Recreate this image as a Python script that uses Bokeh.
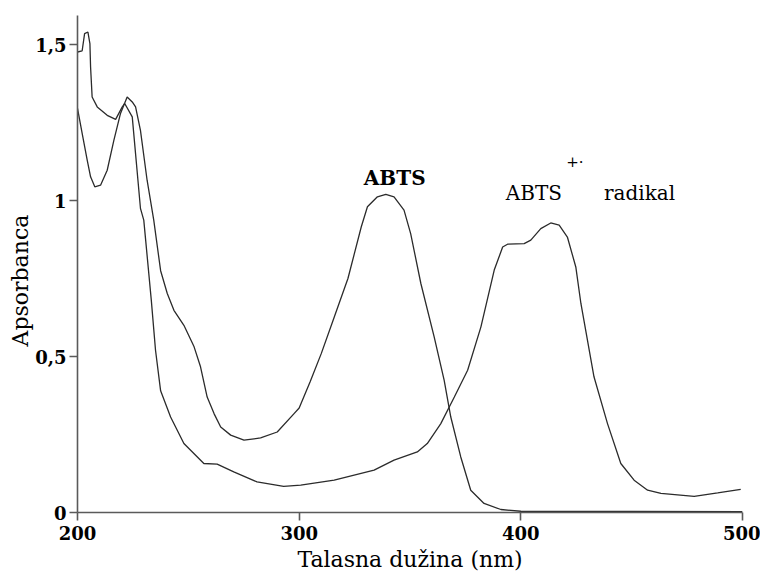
from bokeh.plotting import figure
from bokeh.models import FixedTicker, Title
from bokeh.core.properties import value
from bokeh.embed import file_html
from bokeh.resources import INLINE

# ---- data ----
radical_nm = [200, 202.1, 203.2, 204.7, 205.6, 205.9, 206.6, 208.9, 213.4, 217.2,
              220.2, 221.3, 224.7, 228.4, 229.9, 233.3, 235.2, 237.5, 242, 248,
              257, 263, 270.5, 281, 293, 300.7, 315.8, 333.8, 342.8, 353.3,
              357.8, 363.9, 370, 376, 382, 388, 391.8, 394, 401.5, 404.5,
              409, 413.5, 417.3, 421, 424.8, 427.1, 433, 439.1, 445.1, 451.1,
              457.2, 463.2, 478.2, 488.8, 499.2]
radical_abs = [1.476, 1.48, 1.535, 1.54, 1.503, 1.428, 1.332, 1.30, 1.273, 1.26,
               1.30, 1.311, 1.268, 0.975, 0.937, 0.68, 0.52, 0.39, 0.306, 0.221,
               0.157, 0.155, 0.13, 0.098, 0.084, 0.0875, 0.1035, 0.1356, 0.168, 0.194,
               0.221, 0.285, 0.37, 0.456, 0.595, 0.777, 0.851, 0.86, 0.862, 0.873,
               0.91, 0.928, 0.921, 0.883, 0.787, 0.67, 0.435, 0.285, 0.157, 0.1035,
               0.0715, 0.061, 0.052, 0.063, 0.074]

abts_nm = [200, 202.1, 204.4, 205.9, 207.8, 210.4, 213.4, 216.4, 219.4, 222.4,
           224.7, 226.2, 228.4, 231.4, 234.4, 237.5, 240.5, 243.5, 248, 252.6,
           255.5, 258.5, 261.6, 264.6, 269.1, 275.1, 282.6, 290.1, 297.7, 300,
           305, 310, 316, 322, 328, 330.8, 335.3, 339.1, 342.8, 347.3,
           350.3, 354.9, 360.9, 365.4, 368.4, 372.9, 377.4, 383.4, 391, 400, 500]
abts_abs = [1.295, 1.215, 1.129, 1.076, 1.044, 1.049, 1.097, 1.193, 1.279, 1.332,
            1.316, 1.30, 1.225, 1.065, 0.937, 0.775, 0.702, 0.648, 0.600, 0.531,
            0.467, 0.37, 0.317, 0.274, 0.248, 0.232, 0.239, 0.258, 0.317, 0.335,
            0.42, 0.51, 0.63, 0.75, 0.915, 0.98, 1.012, 1.02, 1.012, 0.969,
            0.894, 0.734, 0.563, 0.424, 0.306, 0.178, 0.0715, 0.029, 0.0096, 0.004, 0.003]

x_ticks = [200, 300, 400, 500]
y_ticks = [0, 0.5, 1, 1.5]
y_tick_labels = ["0", "0,5", "1", "1,5"]

SERIF = "DejaVu Serif"
LINE = "#2b2b2b"
AXIS = "#5a5a5a"

p = figure(width=760, height=577, output_backend="svg", toolbar_location=None,
           x_range=(200, 500), y_range=(0, 1.593),
           min_border_left=77, min_border_top=15, min_border_right=18, min_border_bottom=65)
p.outline_line_color = None
p.grid.visible = False
p.background_fill_color = "white"

p.line(abts_nm, abts_abs, line_color=LINE, line_width=1.3)
p.line(radical_nm, radical_abs, line_color=LINE, line_width=1.3)

for ax in (p.xaxis[0], p.yaxis[0]):
    ax.axis_line_color = AXIS
    ax.axis_line_width = 1.6
    ax.major_tick_line_color = AXIS
    ax.major_tick_line_width = 1.6
    ax.major_tick_in = 0
    ax.major_tick_out = 8
    ax.minor_tick_line_color = None
    ax.major_label_text_font = SERIF
    ax.major_label_text_font_style = "bold"
    ax.major_label_text_font_size = "18px"
    ax.major_label_text_color = "black"

p.xaxis.ticker = FixedTicker(ticks=x_ticks)
p.yaxis.ticker = FixedTicker(ticks=y_ticks)
p.yaxis.major_label_overrides = {t: s for t, s in zip(y_ticks, y_tick_labels)}
p.xaxis.major_label_standoff = 5
p.yaxis.major_label_standoff = 3

p.xaxis.axis_label = "Talasna dužina (nm)"
p.xaxis.axis_label_text_font = SERIF
p.xaxis.axis_label_text_font_style = "normal"
p.xaxis.axis_label_text_font_size = "22px"
p.xaxis.axis_label_text_color = "black"
p.xaxis.axis_label_standoff = 4

ytitle = Title(text="Apsorbanca", align="left", offset=166, standoff=0,
               text_font=SERIF, text_font_style="normal", text_font_size="22px",
               text_color="black")
p.add_layout(ytitle, "left")

p.text(x=[343.1], y=[1.071], text=["ABTS"], text_font=value(SERIF), text_font_size="20px",
       text_font_style="bold", text_align="center", text_baseline="alphabetic", text_color="black")
p.text(x=[393.2], y=[1.023], text=["ABTS"], text_font=value(SERIF), text_font_size="20px",
       text_align="left", text_baseline="alphabetic", text_color="black")
p.text(x=[420.5], y=[1.124], text=["+·"], text_font=value(SERIF), text_font_size="15px",
       text_align="left", text_baseline="alphabetic", text_color="black")
p.text(x=[437.5], y=[1.023], text=["radikal"], text_font=value(SERIF), text_font_size="20px",
       text_align="left", text_baseline="alphabetic", text_color="black")

open("out.html", "w").write(file_html(p, INLINE))
